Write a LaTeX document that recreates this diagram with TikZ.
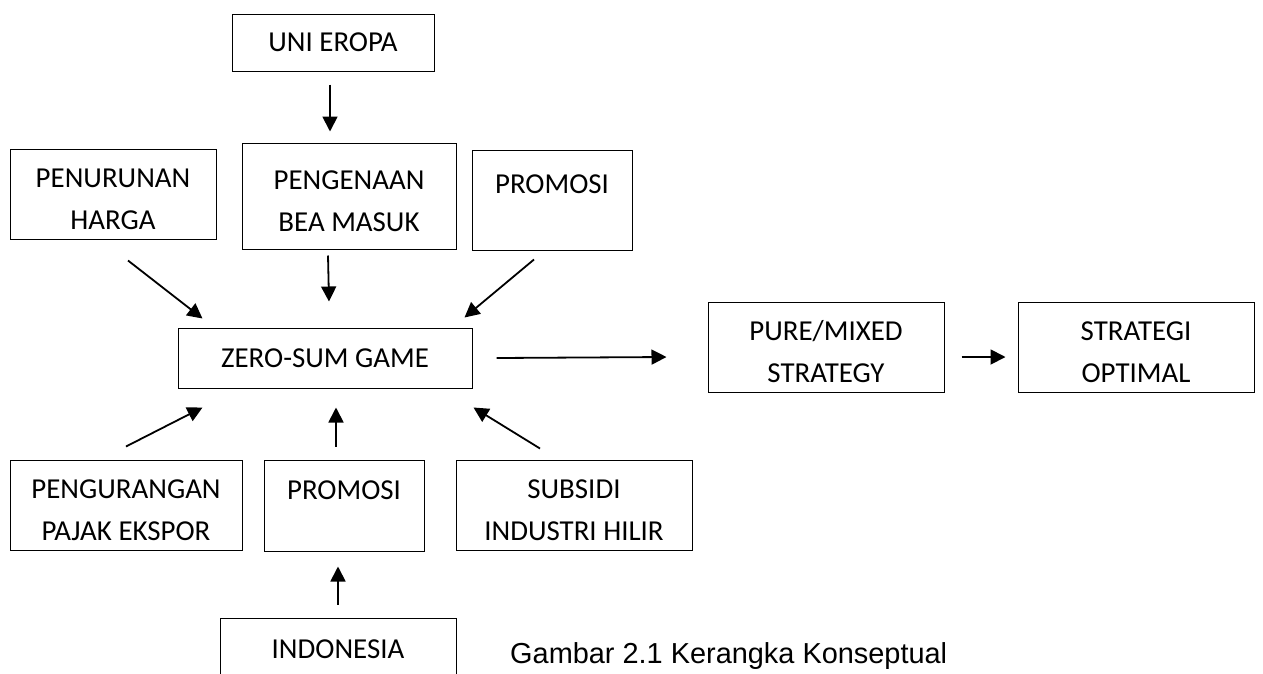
\documentclass[tikz,border=0pt]{standalone}
\usepackage{fontspec}
\setmainfont{Carlito}
\newfontfamily\capfont{Liberation Sans}
\usetikzlibrary{arrows.meta,calc}

\begin{document}
\begin{tikzpicture}[x=1pt,y=-1pt,
box/.style={draw,line width=1pt,inner sep=0pt,align=center,font=\fontsize{28.9}{42}\selectfont},
twoline/.style={box,text height=71pt},
>={Triangle[length=15pt,width=15pt]}]
\clip (0,0) rectangle (1263,673);
\node[box,minimum width=202,minimum height=57] (uni) at (333,42.5) {UNI EROPA};
\node[twoline,minimum width=206,minimum height=90] (turun) at (113,194) {PENURUNAN\\HARGA};
\node[twoline,minimum width=214,minimum height=106] (bea) at (349,196) {PENGENAAN\\BEA MASUK};
\node[twoline,minimum width=160,minimum height=100] (promoA) at (552,200) {PROMOSI\\\mbox{}};
\node[box,minimum width=294,minimum height=60] (zsg) at (325,358) {ZERO-SUM GAME};
\node[twoline,minimum width=236,minimum height=90] (pure) at (826,347) {PURE/MIXED\\STRATEGY};
\node[twoline,minimum width=236,minimum height=90] (opt) at (1136,347) {STRATEGI\\OPTIMAL};
\node[twoline,minimum width=232,minimum height=90] (pajak) at (126,505) {PENGURANGAN\\PAJAK EKSPOR};
\node[twoline,minimum width=160,minimum height=91] (promoB) at (344,505.5) {PROMOSI\\\mbox{}};
\node[twoline,minimum width=236,minimum height=90] (hilir) at (574,505) {SUBSIDI\\INDUSTRI HILIR};
\node[box,minimum width=236,minimum height=62] (indo) at (338,649) {INDONESIA};
\node[anchor=base west,inner sep=0pt,font=\capfont\fontsize{28.9}{34}\selectfont] (cap) at (510,663) {Gambar 2.1 Kerangka Konseptual};
\path[->,line width=1.8pt]
($(uni.south)+(-3,13)$) edge ($(bea.north)+(-19,-11)$)
($(bea.south)+(-21,6)$) edge ($(zsg.north)+(4,-26)$)
($(turun.south)+(15,21)$) edge ($(zsg.north west)+(25,-9)$)
($(promoA.south)+(-18,9)$) edge ($(zsg.north east)+(-8,-10)$)
($(zsg.east)+(24,0)$) edge ($(pure.west)+(-41,10)$)
($(pure.east)+(17,10)$) edge ($(opt.west)+(-12,10)$)
($(pajak.north)+(0,-13)$) edge ($(zsg.south west)+(25,19)$)
($(promoB.north)+(-8,-13)$) edge ($(zsg.south)+(11,19)$)
($(hilir.north)+(-34,-11)$) edge ($(zsg.south east)+(1,19)$)
($(indo.north)+(0,-13)$) edge ($(promoB.south)+(-6,15)$);
\end{tikzpicture}
\end{document}
